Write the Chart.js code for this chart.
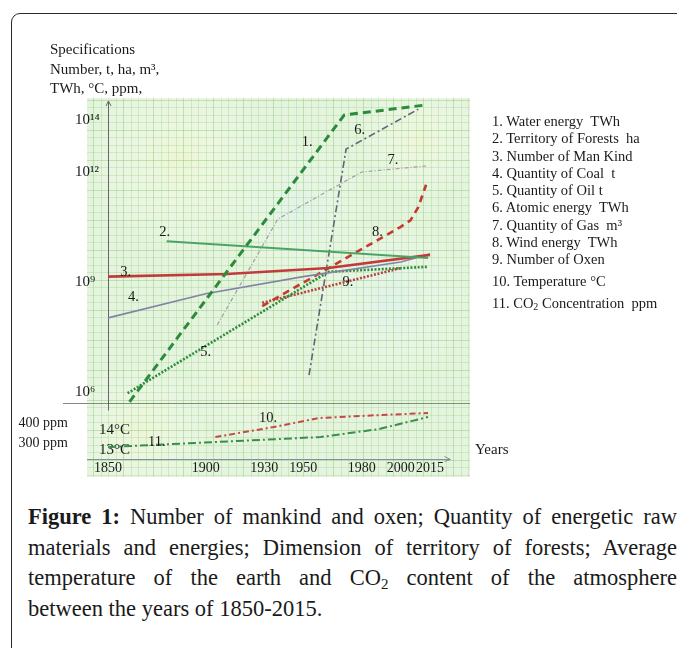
<!DOCTYPE html>
<html><head><meta charset="utf-8">
<script src="https://cdn.jsdelivr.net/npm/chart.js@4.4.1/dist/chart.umd.min.js"></script>
<style>
html,body{margin:0;padding:0;background:#fff;width:677px;height:648px;overflow:hidden;}
body{position:relative;font-family:'Liberation Serif','Times New Roman',serif;color:#1a1a1a;}
#frame{position:absolute;left:11px;top:13px;width:720px;height:700px;border:1.5px solid #2a2a2a;border-radius:9px;box-sizing:border-box;}
#chart{position:absolute;left:0;top:0;}
#ytitle{position:absolute;left:50px;top:40px;font-size:15px;line-height:19.5px;white-space:nowrap;}
#legend{position:absolute;left:492px;top:113px;font-size:14.5px;line-height:17.3px;list-style:none;margin:0;padding:0;white-space:nowrap;}
#legend li.gap{margin-top:4.5px}
#legend sub{font-size:10px;vertical-align:-2px;line-height:0}
#years{position:absolute;left:475px;top:441px;font-size:15px;}
#caption{position:absolute;left:28px;top:502px;width:649px;font-size:22.5px;line-height:30.7px;}
#caption div{text-align:justify;text-align-last:justify;}
#caption div.last{text-align-last:left}
#caption b{font-weight:bold}
#caption sub{font-size:15px;vertical-align:-4px;line-height:0}
</style></head>
<body>
<div id="frame"></div>
<canvas id="chart" width="677" height="490"></canvas>
<div id="ytitle">Specifications<br>Number, t, ha, m³,<br>TWh, °C, ppm,</div>
<ul id="legend"></ul>
<div id="years">Years</div>
<div id="caption">
<div><b>Figure 1:</b> Number of mankind and oxen; Quantity of energetic raw</div>
<div>materials and energies; Dimension of territory of forests; Average</div>
<div>temperature of the earth and CO<sub>2</sub> content of the atmosphere</div>
<div class="last">between the years of 1850-2015.</div>
</div>
<script>
// ---------- data ----------
const seriesLabels = ['Water energy\u00a0 TWh','Territory of Forests\u00a0 ha','Number of Man Kind','Quantity of Coal\u00a0 t','Quantity of Oil t','Atomic energy\u00a0 TWh','Quantity of Gas\u00a0 m³','Wind energy\u00a0 TWh','Number of Oxen','Temperature °C','CO₂ Concentration\u00a0 ppm'];

const waterYears = [1861, 1971, 2013];
const waterTWh = [5.4e5, 1.55e14, 3.8e14];
const forestYears = [1880, 2014];
const forestHa = [1.3e10, 4.5e9];
const mankindYears = [1850, 1911, 1963, 2015];
const mankindNum = [1.4e9, 1.65e9, 2.4e9, 5.5e9];
const coalYears = [1850, 1900, 1950, 2000, 2015];
const coalT = [1.05e8, 4.8e8, 1.4e9, 3.5e9, 5.8e9];
const oilYears = [1860, 1963, 2014];
const oilT = [9.3e5, 1.9e9, 2.6e9];
const atomicYears = [1953, 1972, 2009];
const atomicTWh = [2.9e6, 7.6e12, 2.6e14];
const gasYears = [1906, 1937, 1980, 2013];
const gasM3 = [6.8e7, 5.2e10, 1.0e12, 1.7e12];
const windYears = [1929, 2000, 2005, 2009, 2013];
const windTWh = [2.2e8, 3.2e10, 4.8e10, 1.1e11, 4.5e11];
const oxenYears = [1929, 2000];
const oxenNum = [2.7e8, 2.4e9];
const tempYears = [1905, 1935, 1958, 1990, 2014];
const tempC = [13.65, 14.15, 14.6, 14.75, 14.85];
const co2Years = [1850, 1906, 1959, 1989, 2014];
const co2Ppm = [280, 305, 330, 370, 430];

const yearTicks = [1850, 1900, 1930, 1950, 1980, 2000, 2015];
const magnitudeTicks = [1e6, 1e9, 1e12, 1e14];
const ppmTicks = [300, 400];
const tempTicks = [13, 14];

const markerTexts = ['1.','2.','3.','4.','5.','6.','7.','8.','9.','10.','11.'];
const markerYears = [1952, 1879, 1859, 1863, 1900, 1979, 1996, 1988, 1973, 1932, 1875];
const markerValues = [1.4e13, 2.3e10, 1.9e9, 3.9e8, 1.2e7, 4.2e13, 2.9e12, 2.3e10, 1.0e9, 14.6, 305];
const markerAxes = ['y','y','y','y','y','y','y','y','y','yTemp','yPpm'];

// ---------- log scale whose top decades are drawn compressed, as in the figure ----------
const BREAK_EXP = 12, UPPER_SQUEEZE = 26 / 36.67;
function toU(e){ return e <= BREAK_EXP ? e : BREAK_EXP + (e - BREAK_EXP) * UPPER_SQUEEZE; }
function fromU(u){ return u <= BREAK_EXP ? u : BREAK_EXP + (u - BREAK_EXP) / UPPER_SQUEEZE; }
class BrokenLogScale extends Chart.LogarithmicScale {
  getPixelForValue(value){
    if (value === undefined || value === null || !(value > 0)) return super.getPixelForValue(value);
    return super.getPixelForValue(Math.pow(10, toU(Math.log10(value))));
  }
  getValueForPixel(pixel){
    const v = super.getValueForPixel(pixel);
    return Math.pow(10, fromU(Math.log10(v)));
  }
}
BrokenLogScale.id = 'brokenLog';
BrokenLogScale.defaults = Chart.LogarithmicScale.defaults;
Chart.register(BrokenLogScale);

const SUP = {'0':'⁰','1':'¹','2':'²','3':'³','4':'⁴','5':'⁵','6':'⁶','7':'⁷','8':'⁸','9':'⁹'};
const serif = "'Liberation Serif','Times New Roman',serif";

function pts(xs, ys){ return xs.map((x,i)=>({x:x, y:ys[i]})); }

const styles = [
  {c:'#2b8a3c', w:3, d:[8,5], axis:'y'},
  {c:'#4aa564', w:2, d:[], axis:'y'},
  {c:'#c23b3b', w:2.6, d:[], axis:'y'},
  {c:'#8482a6', w:1.6, d:[], axis:'y'},
  {c:'#2f8c3c', w:2.6, d:[2,1.6], axis:'y'},
  {c:'#5e6677', w:1.6, d:[7,3,2,3], axis:'y'},
  {c:'#a0a0a4', w:1.2, d:[4,2,1,2], axis:'y'},
  {c:'#c43a2e', w:2.6, d:[7,5], axis:'y'},
  {c:'#b5423e', w:2.6, d:[2,1.6], axis:'y'},
  {c:'#c44a48', w:2, d:[6,3,2,3], axis:'yTemp'},
  {c:'#3b8d4b', w:2, d:[8,3,2,3], axis:'yPpm'}
];
const seriesData = [
  pts(waterYears, waterTWh), pts(forestYears, forestHa), pts(mankindYears, mankindNum),
  pts(coalYears, coalT), pts(oilYears, oilT), pts(atomicYears, atomicTWh),
  pts(gasYears, gasM3), pts(windYears, windTWh), pts(oxenYears, oxenNum),
  pts(tempYears, tempC), pts(co2Years, co2Ppm)
];

const paperPlugin = {
  id:'paper',
  beforeDraw(chart){
    const {ctx, chartArea:a, scales} = chart;
    const left = a.left, right = a.right, top = a.top, bottom = a.bottom + 18;
    ctx.save();
    ctx.fillStyle = '#e5f4df';
    ctx.fillRect(left, top, right-left, bottom-top);
    const patches = [[180,160,90,'rgba(244,246,208,0.6)'],[390,300,80,'rgba(220,240,242,0.6)'],[140,430,70,'rgba(242,246,210,0.6)'],[300,210,70,'rgba(220,240,240,0.5)'],[420,140,60,'rgba(244,246,212,0.6)'],[250,380,60,'rgba(244,246,214,0.5)']];
    ctx.beginPath(); ctx.rect(left, top, right-left, bottom-top); ctx.clip();
    patches.forEach(p=>{
      const g = ctx.createRadialGradient(p[0],p[1],0,p[0],p[1],p[2]);
      g.addColorStop(0,p[3]); g.addColorStop(1,'rgba(255,255,255,0)');
      ctx.fillStyle = g; ctx.fillRect(p[0]-p[2],p[1]-p[2],2*p[2],2*p[2]);
    });
    const x0 = scales.x.getPixelForValue(1850);
    const y0 = scales.y.getPixelForValue(1e6);
    const step = 7.5;
    ctx.lineWidth = 1;
    let k = 0;
    for (let x = x0 - Math.floor((x0-left)/step)*step; x <= right; x += step, k++) {
      ctx.strokeStyle = (k % 4 === 0) ? 'rgba(140,200,110,0.45)' : 'rgba(150,208,120,0.32)';
      ctx.beginPath(); ctx.moveTo(Math.round(x)+0.5, top); ctx.lineTo(Math.round(x)+0.5, bottom); ctx.stroke();
    }
    k = 0;
    for (let y = y0 - Math.floor((y0-top)/step)*step; y <= bottom; y += step, k++) {
      ctx.strokeStyle = (k % 4 === 0) ? 'rgba(140,200,110,0.45)' : 'rgba(150,208,120,0.32)';
      ctx.beginPath(); ctx.moveTo(left, Math.round(y)+0.5); ctx.lineTo(right, Math.round(y)+0.5); ctx.stroke();
    }
    ctx.restore();
  },
  beforeDatasetsDraw(chart){
    const {ctx, chartArea:a, scales} = chart;
    ctx.save();
    // separator between the magnitude panel and the temperature / CO2 panel
    const sepY = Math.round(scales.yPpm.getPixelForValue(500)) + 0.5;
    ctx.strokeStyle = '#7d8d80'; ctx.lineWidth = 1.2;
    ctx.beginPath(); ctx.moveTo(63, sepY); ctx.lineTo(a.right, sepY); ctx.stroke();
    // vertical axis at 1850 with arrow
    const ax = Math.round(scales.x.getPixelForValue(1850)) + 0.5;
    ctx.strokeStyle = '#666'; ctx.lineWidth = 1;
    ctx.beginPath(); ctx.moveTo(ax, a.top + 3); ctx.lineTo(ax, sepY + 7); ctx.stroke();
    ctx.beginPath(); ctx.moveTo(ax-2.5, a.top+8); ctx.lineTo(ax, a.top+3); ctx.lineTo(ax+2.5, a.top+8); ctx.stroke();
    // horizontal axis with arrow
    const by = Math.round(a.bottom) + 0.5;
    const ex = scales.x.getPixelForValue(2025.5);
    ctx.strokeStyle = '#8090a0';
    ctx.beginPath(); ctx.moveTo(a.left, by); ctx.lineTo(ex, by); ctx.stroke();
    ctx.beginPath(); ctx.moveTo(ex-6, by-3); ctx.lineTo(ex, by); ctx.lineTo(ex-6, by+2); ctx.stroke();
    ctx.restore();
  },
  afterDatasetsDraw(chart){
    const {ctx, scales} = chart;
    ctx.save();
    ctx.font = "14.5px " + serif;
    ctx.fillStyle = '#1a1a1a';
    ctx.textAlign = 'center'; ctx.textBaseline = 'middle';
    markerTexts.forEach((t,i)=>{
      const x = scales.x.getPixelForValue(markerYears[i]);
      const y = scales[markerAxes[i]].getPixelForValue(markerValues[i]);
      ctx.fillText(t, x, y);
    });
    ctx.restore();
  }
};

const tickFont = {family: serif, size: 14};
const noGrid = {display: false, drawTicks: false};
const chart = new Chart(document.getElementById('chart'), {
  type: 'line',
  data: {
    datasets: seriesData.map((d,i)=>({
      label: seriesLabels[i], data: d, yAxisID: styles[i].axis,
      borderColor: styles[i].c, backgroundColor: styles[i].c,
      borderWidth: styles[i].w, borderDash: styles[i].d, borderCapStyle: 'butt',
      pointRadius: 0, tension: 0, fill: false
    }))
  },
  options: {
    responsive: false, animation: false, devicePixelRatio: 1,
    layout: {padding: {top: 98, right: 207, bottom: 13, left: 0}},
    plugins: {legend: {display: false}, tooltip: {enabled: false}},
    scales: {
      x: {
        type: 'linear', min: 1839.2, max: 2035.5,
        afterBuildTicks: s => { s.ticks = yearTicks.map(v=>({value:v})); },
        afterFit: s => { s.height = 18; },
        ticks: {autoSkip: false, maxRotation: 0, padding: 1, font: tickFont, color: '#1a1a1a', callback: v => String(v)},
        grid: noGrid, border: {display: false}
      },
      y: {
        type: 'brokenLog', position: 'left', weight: 0,
        min: Math.pow(10, 4.173), max: Math.pow(10, 14.018),
        afterBuildTicks: s => { s.ticks = magnitudeTicks.map(v=>({value:v})); },
        afterFit: s => { s.width = 0; },
        ticks: {mirror: true, padding: -12, autoSkip: false, font: {family: serif, size: 15}, color: '#1a1a1a',
          callback: v => '10' + String(Math.round(Math.log10(v))).split('').map(c=>SUP[c]).join('')},
        grid: noGrid, border: {display: false}
      },
      yTemp: {
        type: 'linear', position: 'left', weight: 0, min: 12.55, max: 30.6,
        afterBuildTicks: s => { s.ticks = tempTicks.map(v=>({value:v})); },
        afterFit: s => { s.width = 0; },
        ticks: {mirror: true, padding: 12, autoSkip: false, font: {family: serif, size: 15}, color: '#1a1a1a', callback: v => v + '°C'},
        grid: noGrid, border: {display: false}
      },
      yPpm: {
        type: 'linear', position: 'left', weight: 5, min: 220, max: 2025,
        afterBuildTicks: s => { s.ticks = ppmTicks.map(v=>({value:v})); },
        afterFit: s => { s.width = 87; },
        ticks: {padding: 19, autoSkip: false, font: {family: serif, size: 14}, color: '#1a1a1a', callback: v => v + ' ppm'},
        grid: noGrid, border: {display: false}
      }
    }
  },
  plugins: [paperPlugin]
});

// HTML legend generated from the chart's datasets (numbered, no swatches, as in the figure)
const ul = document.getElementById('legend');
chart.data.datasets.forEach((ds, i) => {
  const li = document.createElement('li');
  if (i >= 9) li.className = 'gap';
  li.innerHTML = (i+1) + '. ' + ds.label.replace('CO₂', 'CO<sub>2</sub>');
  ul.appendChild(li);
});
</script>
</body></html>
